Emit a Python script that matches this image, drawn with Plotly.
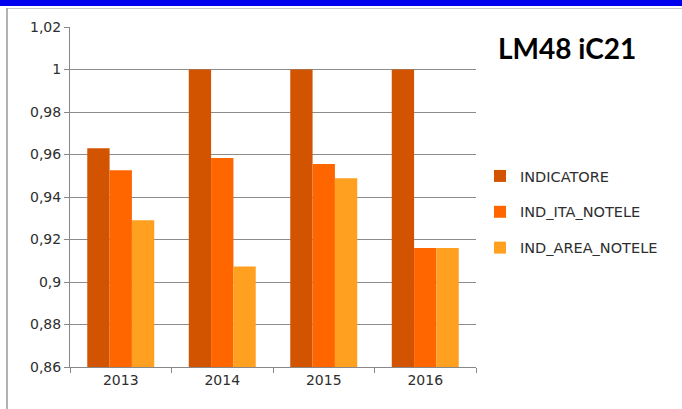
import plotly.graph_objects as go

years = ['2013', '2014', '2015', '2016']
indicatore = [0.963, 1.0, 1.0, 1.0]
ind_ita_notele = [0.9526, 0.9584, 0.9555, 0.916]
ind_area_notele = [0.929, 0.9073, 0.9488, 0.916]

y_ticks = [0.86, 0.88, 0.90, 0.92, 0.94, 0.96, 0.98, 1.00, 1.02]
y_labels = ['0,86', '0,88', '0,9', '0,92', '0,94', '0,96', '0,98', '1', '1,02']

font = 'DejaVu Sans, sans-serif'

fig = go.Figure()
fig.add_trace(go.Bar(x=years, y=indicatore, name='INDICATORE',
                     marker=dict(color='#D35400', line=dict(width=0)),
                     legendgroup='a'))
fig.add_trace(go.Bar(x=years, y=ind_ita_notele, name='IND_ITA_NOTELE',
                     marker=dict(color='#FF6600', line=dict(width=0)),
                     legendgroup='b'))
fig.add_trace(go.Bar(x=years, y=ind_area_notele, name='IND_AREA_NOTELE',
                     marker=dict(color='#FFA020', line=dict(width=0)),
                     legendgroup='c'))

# outer frame: blue band on top, thin grey border on left/top
shapes = [
    dict(type='rect', xref='paper', yref='paper',
         x0=-0.2, x1=1.6, y0=(367 - 6) / 340, y1=1.1,
         fillcolor='#0000EE', line=dict(width=0), layer='above'),
    dict(type='line', xref='paper', yref='paper',
         x0=(7 - 70) / 406, x1=1.6, y0=(367 - 8.5) / 340, y1=(367 - 8.5) / 340,
         line=dict(color='#C8C8C8', width=1)),
    dict(type='line', xref='paper', yref='paper',
         x0=(7 - 70) / 406, x1=(7 - 70) / 406, y0=-0.2, y1=(367 - 8) / 340,
         line=dict(color='#999999', width=1.5)),
]

fig.update_layout(
    width=682, height=409,
    margin=dict(l=70, r=206, t=27, b=42),
    paper_bgcolor='white', plot_bgcolor='white',
    barmode='group', bargap=0.34, bargroupgap=0,
    font=dict(family=font, size=14, color='#2E2E2E'),
    shapes=shapes,
    annotations=[dict(text='<b>LM48 iC21</b>', xref='paper', yref='paper',
                      x=(567 - 70) / 406, y=(367 - 48) / 340,
                      xanchor='center', yanchor='middle', showarrow=False,
                      font=dict(family='Lato, sans-serif', size=28,
                                color='black'))],
    legend=dict(x=(480 - 70) / 406, y=(367 - 160) / 340,
                xanchor='left', yanchor='top',
                font=dict(family=font, size=14.5, color='#2E2E2E'),
                traceorder='grouped', tracegroupgap=14,
                bgcolor='rgba(0,0,0,0)'),
    showlegend=True,
)
fig.update_xaxes(showline=True, linecolor='#888888', linewidth=1,
                 ticks='outside', tickson='boundaries', ticklen=5,
                 tickcolor='#888888', showgrid=False,
                 tickfont=dict(size=14))
fig.update_yaxes(range=[0.86, 1.02], tickvals=y_ticks, ticktext=y_labels,
                 showline=True, linecolor='#888888', linewidth=1,
                 ticks='outside', ticklen=5, tickcolor='#888888',
                 showgrid=True, gridcolor='#8C8C8C', gridwidth=1,
                 zeroline=False, tickfont=dict(size=14))

fig.write_html('out.html', config={'displayModeBar': False},
               post_script="document.body.style.margin='0';")
